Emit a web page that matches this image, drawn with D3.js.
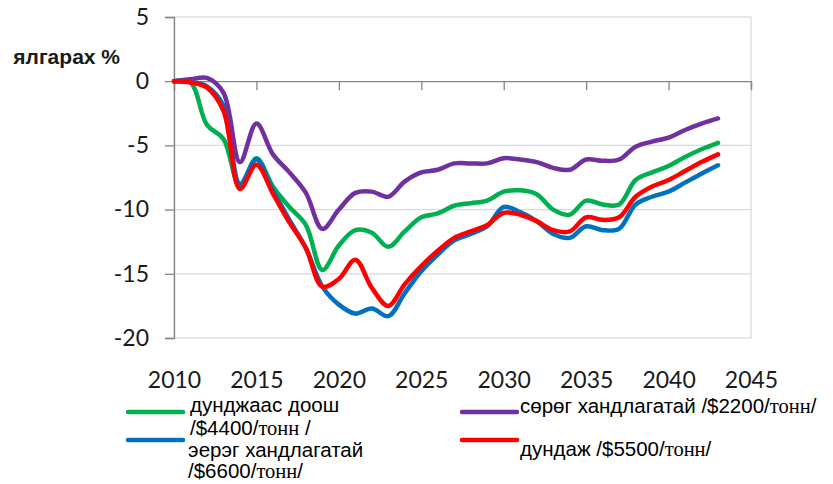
<!DOCTYPE html>
<html>
<head>
<meta charset="utf-8">
<script src="https://cdn.jsdelivr.net/npm/d3@7"></script>
<style>
  body { margin: 0; background: #fff; }
  svg { display: block; }
</style>
</head>
<body>
<div id="chart"></div>
<script>
// Emission change scenarios, 2010-2043

const years = d3.range(2010, 2044);

const greenVals = [0, -0.1, -3.4, -4.5, -8.2, -6.0, -8.2, -9.8, -11.2, -14.7,
  -12.8, -11.6, -11.8, -12.9, -11.7, -10.6, -10.3, -9.7, -9.5, -9.3,
  -8.6, -8.5, -8.8, -10.0, -10.4, -9.3, -9.6, -9.6, -7.7, -7.1,
  -6.6, -5.9, -5.3, -4.8];

const blueVals = [0, -0.05, -0.4, -1.9, -8.0, -6.1, -8.5, -10.8, -13.0, -16.0,
  -17.4, -18.1, -17.7, -18.3, -16.5, -14.8, -13.5, -12.4, -11.9, -11.3,
  -9.8, -10.2, -10.9, -11.9, -12.2, -11.3, -11.6, -11.5, -9.6, -9.0,
  -8.6, -7.9, -7.2, -6.55];

const purpleVals = [0, 0.15, 0.25, -0.9, -6.3, -3.3, -5.7, -7.1, -8.7, -11.5,
  -10.0, -8.7, -8.6, -9.0, -7.8, -7.1, -6.9, -6.4, -6.4, -6.4,
  -6.0, -6.1, -6.3, -6.75, -6.9, -6.1, -6.2, -6.1, -5.1, -4.7,
  -4.4, -3.8, -3.3, -2.9];

const redVals = [0, -0.1, -0.5, -2.3, -8.4, -6.5, -8.75, -11.0, -13.0, -16.0,
  -15.4, -13.9, -16.1, -17.5, -15.8, -14.4, -13.2, -12.2, -11.7, -11.2,
  -10.25, -10.4, -10.9, -11.6, -11.7, -10.6, -10.8, -10.6, -9.0, -8.2,
  -7.7, -7.0, -6.3, -5.7];

const xTicks = [2010, 2015, 2020, 2025, 2030, 2035, 2040, 2045];
const yTicks = [5, 0, -5, -10, -15, -20];

const seriesNames = ["дунджаас доош", "эерэг хандлагатай", "сөрөг хандлагатай", "дундаж"];
const seriesPrices = ["$4400", "$6600", "$2200", "$5500"];

function drawChart() {
    const margin = {top: 17, right: 82, bottom: 146, left: 174},
          width = 833 - margin.left - margin.right,
          height = 484 - margin.top - margin.bottom;

    const root = d3.select("#chart")
        .append("svg")
        .attr("width", 833)
        .attr("height", 484);

    const svg = root.append("g")
        .attr("transform", `translate(${margin.left},${margin.top})`);

    const x = d3.scaleLinear().domain([2010, 2045]).range([0, width]);
    const y = d3.scaleLinear().domain([-20, 5]).range([height, 0]);

    // plot area border (light)
    svg.append("rect")
        .attr("x", 0).attr("y", 0)
        .attr("width", width).attr("height", height)
        .attr("fill", "none")
        .attr("stroke", "#d9d9d9")
        .attr("stroke-width", 1.2);

    // gridlines
    svg.selectAll(".grid")
        .data(yTicks.filter(d => d < 0 && d > -20))
        .enter()
        .append("line")
        .attr("x1", 0).attr("x2", width)
        .attr("y1", d => y(d)).attr("y2", d => y(d))
        .attr("stroke", "#cddbef")
        .attr("stroke-width", 1.2);

    // Y axis (hyphen minus like the original)
    const yAxis = svg.append("g")
        .call(d3.axisLeft(y).tickValues(yTicks).tickSize(9).tickPadding(16)
            .tickFormat(d => String(d)));
    yAxis.select(".domain").attr("stroke", "#868686").attr("stroke-width", 1.3);
    yAxis.selectAll(".tick line").attr("stroke", "#868686").attr("stroke-width", 1.3);
    yAxis.selectAll("text")
        .style("font-family", "Lato, 'Open Sans', sans-serif")
        .style("font-size", "23px")
        .attr("fill", "#1a1a1a");

    // X axis line at zero
    const xAxis = svg.append("g")
        .attr("transform", `translate(0,${y(0)})`)
        .call(d3.axisBottom(x).tickValues(xTicks).tickSize(9).tickFormat(""));
    xAxis.select(".domain").attr("stroke", "#868686").attr("stroke-width", 1.3);
    xAxis.selectAll(".tick line").attr("stroke", "#868686").attr("stroke-width", 1.3);

    // X tick labels at the bottom
    const xLabels = svg.append("g")
        .attr("transform", `translate(0,${height + 34})`)
        .call(d3.axisBottom(x).tickValues(xTicks).tickSize(0).tickPadding(0).tickFormat(d3.format("d")));
    xLabels.select(".domain").remove();
    xLabels.selectAll("text")
        .style("font-family", "Lato, 'Open Sans', sans-serif")
        .style("font-size", "23px")
        .attr("fill", "#1a1a1a");

    // lines
    const series = [
        {vals: greenVals, color: "#00b050"},
        {vals: blueVals, color: "#0070c0"},
        {vals: purpleVals, color: "#7030a0"},
        {vals: redVals, color: "#ff0000"}
    ];

    const line = d3.line()
        .x((d, i) => x(years[i]))
        .y(d => y(d))
        .curve(d3.curveCatmullRom.alpha(0.5));

    svg.selectAll(".series")
        .data(series)
        .enter()
        .append("path")
        .attr("class", "series")
        .attr("d", d => line(d.vals))
        .attr("fill", "none")
        .attr("stroke", d => d.color)
        .attr("stroke-width", 4.5)
        .attr("stroke-linejoin", "round")
        .attr("stroke-linecap", "round");

    // y axis title
    root.append("text")
        .attr("x", 120)
        .attr("y", 64)
        .attr("text-anchor", "end")
        .style("font-family", "'Liberation Sans', Arial, sans-serif")
        .style("font-size", "21px")
        .style("font-weight", "bold")
        .attr("fill", "#1a1a1a")
        .text("ялгарах %");

    // legend
    const legend = [
        {color: series[0].color, lx: 128, ly: 412, tx: 190,
         lines: [{y: 412, pre: seriesNames[0], tail: null},
                 {y: 435, pre: "/" + seriesPrices[0] + "/", tail: " /"}]},
        {color: series[1].color, lx: 128, ly: 440, tx: 188,
         lines: [{y: 457, pre: seriesNames[1], tail: null},
                 {y: 478, pre: "/" + seriesPrices[1] + "/", tail: "/"}]},
        {color: series[2].color, lx: 462, ly: 412, tx: 520,
         lines: [{y: 413, pre: seriesNames[2] + " /" + seriesPrices[2] + "/", tail: "/"}]},
        {color: series[3].color, lx: 462, ly: 440, tx: 520,
         lines: [{y: 456, pre: seriesNames[3] + " /" + seriesPrices[3] + "/", tail: "/"}]}
    ];

    const lg = root.append("g");
    legend.forEach(item => {
        lg.append("line")
            .attr("x1", item.lx).attr("x2", item.lx + 55)
            .attr("y1", item.ly).attr("y2", item.ly)
            .attr("stroke", item.color)
            .attr("stroke-width", 4.5)
            .attr("stroke-linecap", "round");

        item.lines.forEach(l => {
            const t = lg.append("text")
                .attr("x", item.tx)
                .attr("y", l.y)
                .attr("fill", "#000")
                .style("font-family", "'Liberation Sans', Arial, sans-serif")
                .style("font-size", "20.5px");
            t.append("tspan").text(l.pre);
            if (l.tail !== null) {
                t.append("tspan")
                    .style("font-family", "'Liberation Serif', 'Times New Roman', serif")
                    .text("тонн");
                t.append("tspan").text(l.tail);
            }
        });
    });
}

drawChart();
</script>
</body>
</html>
